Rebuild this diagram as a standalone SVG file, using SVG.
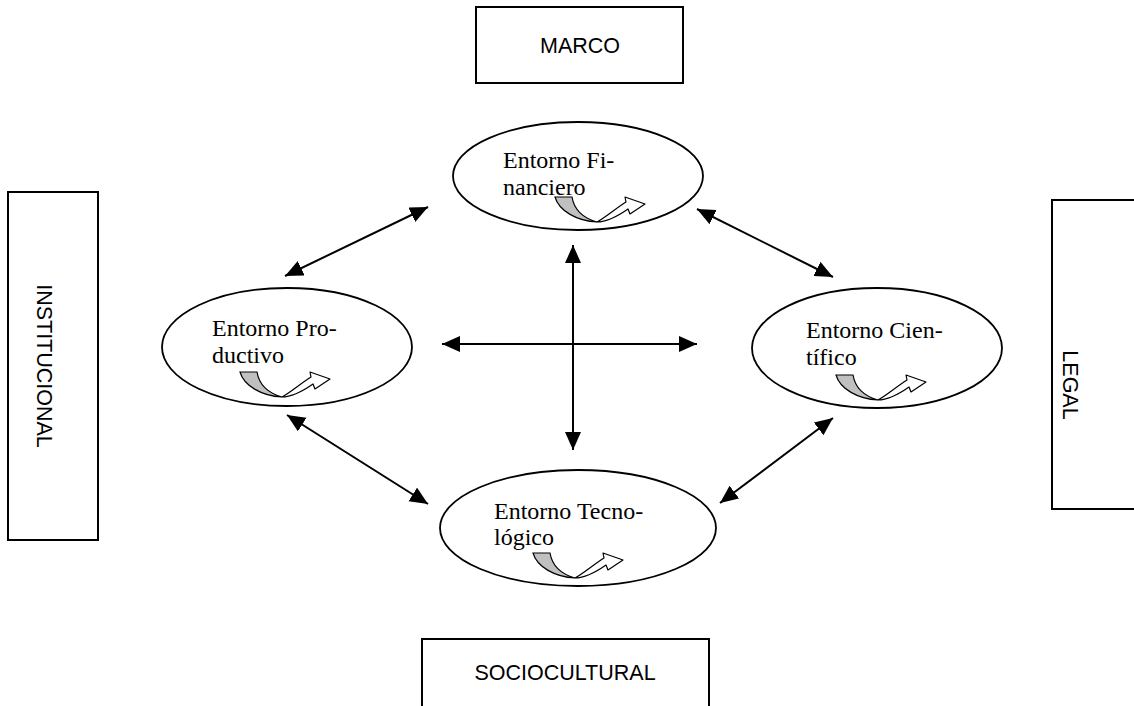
<svg xmlns="http://www.w3.org/2000/svg" xmlns:xlink="http://www.w3.org/1999/xlink" width="1134" height="706" viewBox="0 0 1134 706">
<style>
.box{fill:#fff;stroke:#000;stroke-width:2}
.ell{fill:#fff;stroke:#000;stroke-width:1.8}
.bt{font-family:"Liberation Sans",Arial,sans-serif;font-size:21.5px;fill:#000}
.et{font-family:"Liberation Serif","Times New Roman",serif;font-size:24px;fill:#000}
.con{stroke:#000;stroke-width:2;fill:none;marker-start:url(#ah);marker-end:url(#ah)}
</style>
<defs>
<marker id="ah" markerUnits="userSpaceOnUse" markerWidth="20" markerHeight="18" refX="18" refY="8" orient="auto-start-reverse" viewBox="0 0 20 18">
<path d="M0,0 L18,8 L0,16 Z" fill="#000"/>
</marker>
<g id="uturn">
<path d="M0,0 L17,0 C19,12 28,21 42,25 C22,24 4,14 0,0 Z" fill="#c0c0c0" stroke="#000" stroke-width="1.2"/>
<path d="M42,25 C53,25 63,19 73,12 L75,17 L90,7 L70,0 L71,5 C60,12 51,20 42,25 Z" fill="#fff" stroke="#000" stroke-width="1.2" stroke-linejoin="round"/>
</g>
</defs>
<rect width="1134" height="706" fill="#fff"/>
<g id="marco"><rect class="box" x="476" y="7" width="207" height="76"/><text class="bt" x="580" y="53" text-anchor="middle">MARCO</text></g>
<g id="sociocultural"><rect class="box" x="422" y="639" width="287" height="80"/><text class="bt" x="565" y="680" text-anchor="middle">SOCIOCULTURAL</text></g>
<g id="institucional"><rect class="box" x="8" y="192" width="90" height="348"/><text class="bt" transform="translate(37,366) rotate(90)" text-anchor="middle">INSTITUCIONAL</text></g>
<g id="legal"><rect class="box" x="1052" y="200" width="100" height="309"/><text class="bt" transform="translate(1063,385) rotate(90)" text-anchor="middle">LEGAL</text></g>
<g id="connectors">
<line class="con" x1="428" y1="207" x2="285" y2="276"/>
<line class="con" x1="697" y1="209" x2="833" y2="277"/>
<line class="con" x1="287" y1="415" x2="428" y2="504"/>
<line class="con" x1="833" y1="418" x2="720" y2="503"/>
<line class="con" x1="573" y1="245" x2="573" y2="450"/>
<line class="con" x1="442" y1="344" x2="697" y2="344"/>
</g>
<g id="financiero"><ellipse class="ell" cx="578" cy="176" rx="125" ry="54"/><text class="et" x="503" y="168">Entorno Fi-</text><text class="et" x="503" y="195">nanciero</text><use xlink:href="#uturn" x="555" y="197"/></g>
<g id="productivo"><ellipse class="ell" cx="287" cy="347" rx="125" ry="59"/><text class="et" x="212" y="336">Entorno Pro-</text><text class="et" x="212" y="363">ductivo</text><use xlink:href="#uturn" x="240" y="372"/></g>
<g id="cientifico"><ellipse class="ell" cx="877" cy="348" rx="125" ry="60"/><text class="et" x="806" y="338">Entorno Cien-</text><text class="et" x="806" y="365">tífico</text><use xlink:href="#uturn" x="836" y="375"/></g>
<g id="tecnologico"><ellipse class="ell" cx="578" cy="528" rx="138" ry="58"/><text class="et" x="494" y="519">Entorno Tecno-</text><text class="et" x="494" y="545">lógico</text><use xlink:href="#uturn" x="533" y="553"/></g>
</svg>
